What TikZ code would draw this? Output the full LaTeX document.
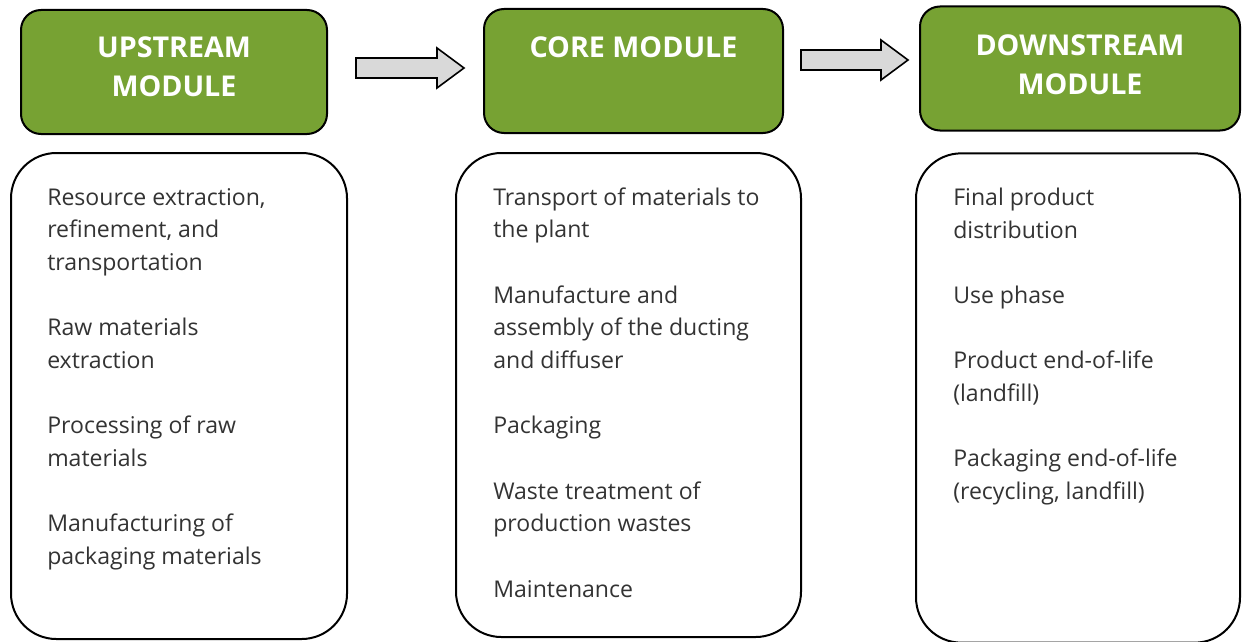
\documentclass[tikz,border=0pt]{standalone}
\usepackage{fontspec}
\setmainfont{Open Sans}
\usetikzlibrary{positioning}

\definecolor{modgreen}{RGB}{119,162,51}
\definecolor{arrgray}{RGB}{217,217,217}

% block arrow between the module headers: start x, tip x, middle y
\newcommand{\blockarrow}[3]{%
  \draw[blockarr] ({#1},{#3-10}) -- ({#2-27},{#3-10}) -- ({#2-27},{#3-20}) -- ({#2},{#3})
    -- ({#2-27},{#3+20}) -- ({#2-27},{#3+10}) -- ({#1},{#3+10}) -- cycle;}

\tikzset{
  modhead/.style={draw=black, line width=1.5pt, fill=modgreen, rounded corners=15pt,
    minimum width=229.5pt, minimum height=93pt},
  headtext/.style={text=white, align=center, inner sep=0pt,
    font=\fontsize{21.5pt}{29.5pt}\selectfont\bfseries},
  modbody/.style={draw=black, line width=1.5pt, rounded corners=34pt},
  itemtext/.style={align=left, inner sep=0pt, text=black!80,
    font=\fontsize{17.3pt}{24.5pt}\selectfont},
  blockarr/.style={draw=black, line width=1.2pt, fill=arrgray, line join=miter}
}

\begin{document}
\begin{tikzpicture}[x=0.75pt,y=-0.75pt]

    \useasboundingbox (0,0) rectangle (1242,642);

    % module headers
    \node[modhead] (uphead) at (174,72) {};
    \node[modhead, minimum width=224.25pt] (corehead) at (633.5,71) {};
    \node[modhead, minimum width=240pt] (downhead) at (1080,68.5) {};

    \node[headtext, below=20.5pt of uphead.north] (uptitle) {UPSTREAM\\MODULE};
    \node[headtext, below=21.5pt of corehead.north] (coretitle) {CORE MODULE};
    \node[headtext, below=21.5pt of downhead.north] (downtitle) {DOWNSTREAM\\MODULE};

    % arrows between them
    \blockarrow{356}{464}{68}
    \blockarrow{801}{908}{60}

    % module contents
    \node[modbody, minimum width=252pt, minimum height=364.5pt] (upbody) at (179,396) {};
    \node[modbody, minimum width=258.75pt, minimum height=363pt] (corebody) at (628.5,395) {};
    \node[modbody, minimum width=243pt, minimum height=367pt] (downbody) at (1078,398) {};

    \node[itemtext, below right=22.5pt and 27.75pt of upbody.north west] (uplist)
        {\strut Resource extraction,\\ refinement, and\\ transportation\\[\baselineskip]
         Raw materials\\ extraction\\[\baselineskip]
         Processing of raw\\ materials\\[\baselineskip]
         Manufacturing of\\ packaging materials};

    \node[itemtext, below right=22.5pt and 28.5pt of corebody.north west] (corelist)
        {\strut Transport of materials to\\ the plant\\[\baselineskip]
         Manufacture and\\ assembly of the ducting\\ and diffuser\\[\baselineskip]
         Packaging\\[\baselineskip]
         Waste treatment of\\ production wastes\\[\baselineskip]
         Maintenance};

    \node[itemtext, below right=22.5pt and 28.5pt of downbody.north west] (downlist)
        {\strut Final product\\ distribution\\[\baselineskip]
         Use phase\\[\baselineskip]
         Product end-of-life\\ (landfill)\\[\baselineskip]
         Packaging end-of-life\\ (recycling, landfill)};

\end{tikzpicture}
\end{document}
